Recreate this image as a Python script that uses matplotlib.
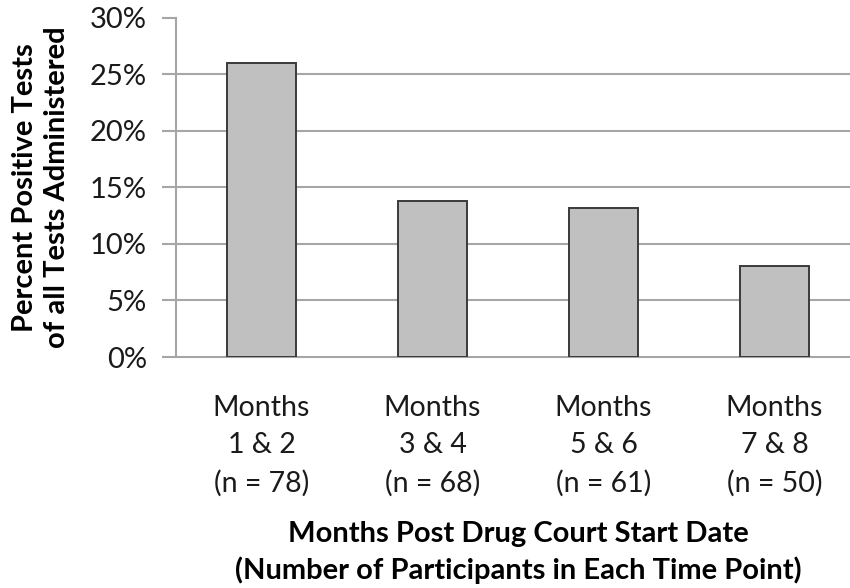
import matplotlib
matplotlib.use("Agg")
import matplotlib.pyplot as plt
from matplotlib.ticker import FuncFormatter

categories = ["Months\n1 & 2\n(n = 78)", "Months\n3 & 4\n(n = 68)",
              "Months\n5 & 6\n(n = 61)", "Months\n7 & 8\n(n = 50)"]
values = [26.0, 13.8, 13.2, 8.0]
yticks = [0, 5, 10, 15, 20, 25, 30]

plt.rcParams['font.family'] = ['Lato', 'DejaVu Sans']

fig = plt.figure(figsize=(8.5, 5.88), dpi=100)
W, H = 850, 588
x0, x1 = 176, 860
y0, y1 = 357, 17.5
ax = fig.add_axes([x0 / W, (H - y0) / H, (x1 - x0) / W, (y0 - y1) / H])

pos = list(range(len(values)))
ax.bar(pos, values, width=0.40, color="#c0c0c0", edgecolor="#3a3a3a", linewidth=1.4, zorder=3)

ax.set_xlim(-0.5, len(values) - 0.5)
ax.set_ylim(0, 30)
ax.set_yticks(yticks)
ax.yaxis.set_major_formatter(FuncFormatter(lambda v, p: f"{int(v)}%"))
for t in yticks[1:-1]:
    ax.axhline(t, color="#a6a6a6", linewidth=1.5, zorder=1)

for s in ["top", "right"]:
    ax.spines[s].set_visible(False)
for s in ["left", "bottom"]:
    ax.spines[s].set_color("#a6a6a6")
    ax.spines[s].set_linewidth(1.5)

ax.tick_params(axis="y", length=10, width=1.5, color="#a6a6a6", labelsize=21, pad=11, labelcolor="#1a1a1a")
ax.set_xticks(pos)
ax.set_xticklabels(categories, linespacing=1.55)
ax.tick_params(axis="x", length=0, labelsize=20.5, pad=27, labelcolor="#1a1a1a")

ax.set_ylabel("Percent Positive Tests\nof all Tests Administered", fontsize=21,
              fontweight="bold", linespacing=1.33)
ax.set_xlabel("Months Post Drug Court Start Date\n(Number of Participants in Each Time Point)",
              fontsize=21, fontweight="bold", linespacing=1.42)
ax.xaxis.set_label_coords((518 - x0) / (x1 - x0), -(521 - y0) / (y0 - y1))
ax.xaxis.label.set_va("top")
ax.yaxis.set_label_coords(-(176 - 41) / (x1 - x0), 0.5)
ax.yaxis.label.set_va("center")

fig.savefig("out.png", dpi=100)
